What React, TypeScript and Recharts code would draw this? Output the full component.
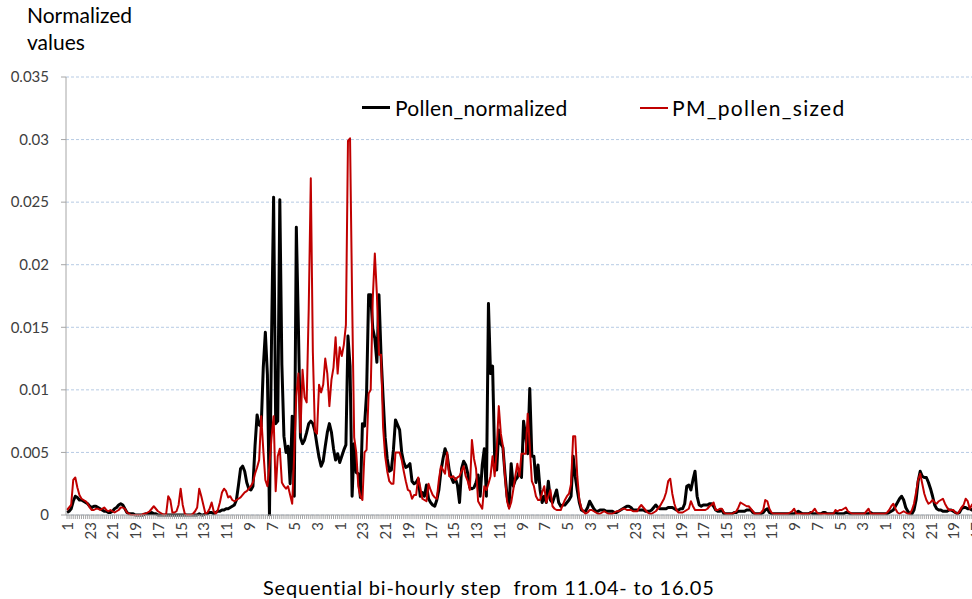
import { LineChart, Line, XAxis, YAxis, CartesianGrid } from "recharts";

// hour of day shown under every 11th bi-hourly step
const HOUR_LABELS = [
  "1", "23", "21", "19", "17", "15", "13", "11", "9", "7", "5", "3",
  "1", "23", "21", "19", "17", "15", "13", "11", "9", "7", "5", "3",
  "1", "23", "21", "19", "17", "15", "13", "11", "9", "7", "5", "3",
  "1", "23", "21", "19", "17",
];
const LABEL_EVERY = 11;

const Y_TICKS = [0, 0.005, 0.01, 0.015, 0.02, 0.025, 0.03, 0.035];

// one row per 11 bi-hourly steps
const POLLEN_NORMALIZED = [
  0.0002, 0.0003, 0.0005, 0.0011, 0.0015, 0.0014, 0.0012, 0.0012, 0.0011, 0.001, 0.0009,
  0.0007, 0.0006, 0.0007, 0.0007, 0.0006, 0.0005, 0.0004, 0.0003, 0.0003, 0.0002, 0.0002,
  0.0003, 0.0005, 0.0006, 0.0008, 0.0009, 0.0008, 0.0005, 0.0002, 0.0001, 0.0001, 0.0001,
  0, 0, 0, 0, 0, 0.0001, 0.0001, 0.0001, 0.0002, 0.0001, 0.0001,
  0, 0, 0, 0, 0, 0, 0, 0, 0, 0, 0,
  0, 0, 0, 0, 0, 0, 0, 0, 0, 0.0001, 0,
  0, 0.0001, 0.0001, 0.0002, 0.0002, 0.0001, 0.0002, 0.0003, 0.0003, 0.0004, 0.0004,
  0.0005, 0.0005, 0.0006, 0.0007, 0.0008, 0.0012, 0.0024, 0.0037, 0.0039, 0.0035, 0.0026,
  0.0021, 0.002, 0.0023, 0.0055, 0.008, 0.0072, 0.0071, 0.0118, 0.0146, 0.0112, 0,
  0.0141, 0.0254, 0.0073, 0.0075, 0.0252, 0.012, 0.0063, 0.005, 0.0055, 0.0025, 0.0079,
  0.0015, 0.023, 0.015, 0.0062, 0.0057, 0.006, 0.0066, 0.0073, 0.0075, 0.0073, 0.0067,
  0.0056, 0.0046, 0.0039, 0.0043, 0.0055, 0.0066, 0.0073, 0.0066, 0.0053, 0.0044, 0.0049,
  0.0042, 0.0047, 0.0052, 0.0056, 0.0143, 0.0119, 0.0015, 0.0057, 0.0034, 0.0033, 0.0014,
  0.0073, 0.0071, 0.0097, 0.0176, 0.0176, 0.0149, 0.0141, 0.0122, 0.0176, 0.0128, 0.0094,
  0.0062, 0.0045, 0.0035, 0.0036, 0.0052, 0.0076, 0.0072, 0.0068, 0.005, 0.0042, 0.0038,
  0.0039, 0.0041, 0.0027, 0.0025, 0.0026, 0.0029, 0.0015, 0.0018, 0.0015, 0.0024, 0.0013,
  0.001, 0.0008, 0.0007, 0.0012, 0.002, 0.0035, 0.0045, 0.0053, 0.0048, 0.0036, 0.003,
  0.0026, 0.0029, 0.0024, 0.001, 0.0037, 0.0043, 0.004, 0.0033, 0.0022, 0.0021, 0.0022,
  0.0026, 0.0032, 0.0015, 0.004, 0.0053, 0.0015, 0.0169, 0.0113, 0.0119, 0.0046, 0.0036,
  0.0068, 0.0057, 0.0054, 0.0033, 0.0015, 0.0007, 0.0041, 0.0023, 0.0028, 0.003, 0.0036,
  0.003, 0.0075, 0.0063, 0.0049, 0.0101, 0.0047, 0.0047, 0.0026, 0.004, 0.002, 0.001,
  0.0015, 0.001, 0.0027, 0.0012, 0.001, 0.0015, 0.002, 0.001, 0.0007, 0.0008, 0.0008,
  0.001, 0.0012, 0.0015, 0.0047, 0.0031, 0.002, 0.001, 0.0004, 0.0003, 0.0003, 0.0006,
  0.0011, 0.0008, 0.0005, 0.0003, 0.0003, 0.0004, 0.0004, 0.0004, 0.0003, 0.0003, 0.0003,
  0.0003, 0.0002, 0.0002, 0.0003, 0.0004, 0.0005, 0.0006, 0.0007, 0.0007, 0.0006, 0.0004,
  0.0004, 0.0004, 0.0004, 0.0004, 0.0004, 0.0003, 0.0003, 0.0003, 0.0004, 0.0006, 0.0008,
  0.0006, 0.0005, 0.0005, 0.0005, 0.0005, 0.0006, 0.0006, 0.0006, 0.0005, 0.0004, 0.0004,
  0.0005, 0.0005, 0.0009, 0.0023, 0.0024, 0.002, 0.0028, 0.0035, 0.0015, 0.0008, 0.0007,
  0.0008, 0.0008, 0.0008, 0.0009, 0.0009, 0.0007, 0.0004, 0.0003, 0.0003, 0.0004, 0.0001,
  0.0001, 0.0001, 0.0001, 0.0001, 0.0002, 0.0002, 0.0003, 0.0003, 0.0003, 0.0003, 0.0004,
  0.0004, 0.0004, 0.0002, 0.0001, 0.0001, 0.0001, 0.0001, 0.0002, 0.0004, 0.0005, 0.0002,
  0.0001, 0.0001, 0.0001, 0.0001, 0.0001, 0.0001, 0.0001, 0.0001, 0.0001, 0.0001, 0.0001,
  0.0001, 0.0002, 0.0003, 0.0002, 0.0001, 0.0001, 0.0001, 0.0001, 0.0002, 0.0001, 0.0001,
  0.0001, 0.0001, 0.0001, 0.0002, 0.0002, 0.0001, 0.0001, 0.0001, 0.0001, 0.0002, 0.0001,
  0.0001, 0.0001, 0.0001, 0.0002, 0.0002, 0.0001, 0.0001, 0.0001, 0.0001, 0.0001, 0.0001,
  0.0001, 0.0001, 0.0001, 0.0001, 0.0002, 0.0001, 0.0001, 0.0001, 0.0001, 0.0001, 0.0001,
  0.0001, 0.0001, 0.0002, 0.0003, 0.0004, 0.0007, 0.001, 0.0013, 0.0015, 0.0012, 0.0006,
  0.0003, 0.0001, 0.0001, 0.0004, 0.0012, 0.0027, 0.0035, 0.0031, 0.003, 0.003, 0.0026,
  0.0021, 0.0015, 0.0008, 0.0005, 0.0004, 0.0004, 0.0003, 0.0003, 0.0003, 0.0004, 0.0004,
  0.0003, 0.0002, 0.0001, 0.0002, 0.0005, 0.0006, 0.0006, 0.0005, 0.0005, 0.0004, 0.0003,
  0.0003,
];

const PM_POLLEN_SIZED = [
  0.0004, 0.0006, 0.0008, 0.0028, 0.003, 0.0022, 0.0016, 0.0013, 0.0012, 0.0011, 0.0009,
  0.0006, 0.0004, 0.0004, 0.0005, 0.0005, 0.0004, 0.0005, 0.0006, 0.0004, 0.0003, 0.0004,
  0.0003, 0.0002, 0.0003, 0.0004, 0.0006, 0.0006, 0.0005, 0.0002, 0.0001, 0, 0,
  0, 0, 0, 0, 0.0001, 0.0001, 0.0002, 0.0003, 0.0005, 0.0007, 0.0005,
  0.0003, 0.0002, 0.0001, 0, 0.0001, 0.0015, 0.0012, 0.0002, 0.0002, 0.0003, 0.0008,
  0.0021, 0.0008, 0.0001, 0, 0, 0, 0.0001, 0.0003, 0.0006, 0.0021, 0.0015,
  0.0008, 0.0001, 0.0002, 0.0005, 0.001, 0.0003, 0.0001, 0.0004, 0.001, 0.0018, 0.0021,
  0.0019, 0.0014, 0.0015, 0.0012, 0.0011, 0.0012, 0.0013, 0.0014, 0.0016, 0.0018, 0.0019,
  0.0021, 0.0023, 0.0026, 0.0033, 0.0038, 0.0044, 0.0079, 0.0052, 0.0028, 0.0023, 0.004,
  0.0062, 0.0079, 0.0019, 0.0047, 0.0053, 0.0026, 0.0023, 0.0021, 0.0023, 0.0016, 0.0009,
  0.005, 0.0095, 0.0113, 0.0066, 0.0116, 0.0094, 0.009, 0.0165, 0.0269, 0.013, 0.0067,
  0.0065, 0.0104, 0.0098, 0.0104, 0.0125, 0.0113, 0.0087, 0.0108, 0.0118, 0.0142, 0.0113,
  0.0134, 0.0127, 0.0136, 0.0152, 0.0299, 0.0301, 0.0173, 0.0062, 0.005, 0.0023, 0.0015,
  0.0012, 0.005, 0.0052, 0.0097, 0.01, 0.0173, 0.0209, 0.0176, 0.0128, 0.0128, 0.007,
  0.0047, 0.0035, 0.0027, 0.0025, 0.0025, 0.005, 0.005, 0.005, 0.0044, 0.0035, 0.0027,
  0.002, 0.0019, 0.0013, 0.0016, 0.0016, 0.003, 0.0022, 0.0013, 0.0012, 0.0011, 0.0025,
  0.002, 0.0016, 0.0014, 0.0013, 0.0028, 0.0039, 0.0036, 0.0033, 0.005, 0.0031, 0.003,
  0.0031, 0.0028, 0.003, 0.0031, 0.0035, 0.0039, 0.0031, 0.0027, 0.002, 0.006, 0.0045,
  0.0037, 0.0011, 0.0008, 0.0005, 0.0023, 0.002, 0.0025, 0.0031, 0.0047, 0.0031, 0.0052,
  0.0087, 0.0065, 0.0055, 0.0031, 0.0011, 0.0005, 0.001, 0.002, 0.0031, 0.0041, 0.0031,
  0.0049, 0.0049, 0.0049, 0.0081, 0.0055, 0.0027, 0.0023, 0.0015, 0.0012, 0.0012, 0.0018,
  0.0023, 0.001, 0.0015, 0.002, 0.0007, 0.0005, 0.0004, 0.0004, 0.0004, 0.0008, 0.0012,
  0.0015, 0.0017, 0.0025, 0.0063, 0.0063, 0.0031, 0.0012, 0.0005, 0.0003, 0.0001, 0.0002,
  0.0004, 0.0004, 0.0003, 0.0002, 0.0001, 0.0001, 0.0002, 0.0003, 0.0002, 0.0001, 0.0001,
  0.0001, 0.0002, 0.0003, 0.0003, 0.0004, 0.0005, 0.0005, 0.0004, 0.0004, 0.0004, 0.0003,
  0.0003, 0.0003, 0.0006, 0.0008, 0.0006, 0.0004, 0.0002, 0.0001, 0.0001, 0.0002, 0.0003,
  0.0005, 0.0007, 0.001, 0.0013, 0.0018, 0.0027, 0.0029, 0.0017, 0.0009, 0.0004, 0.0002,
  0.0002, 0.0002, 0.0003, 0.0004, 0.0005, 0.0011, 0.0007, 0.0004, 0.0004, 0.0004, 0.0004,
  0.0004, 0.0004, 0.0005, 0.0007, 0.0008, 0.001, 0.0004, 0.0004, 0.0005, 0.0005, 0.0002,
  0.0001, 0.0001, 0.0001, 0.0001, 0.0002, 0.0003, 0.0006, 0.001, 0.0009, 0.0008, 0.0007,
  0.0007, 0.0005, 0.0003, 0.0001, 0.0001, 0.0001, 0.0002, 0.0004, 0.0012, 0.0011, 0.0005,
  0.0002, 0.0001, 0.0001, 0.0001, 0.0001, 0.0001, 0.0001, 0.0001, 0.0001, 0.0002, 0.0003,
  0.0005, 0.0001, 0.0001, 0.0001, 0.0001, 0.0001, 0.0001, 0.0001, 0.0002, 0.0003, 0.0005,
  0.0002, 0.0001, 0.0001, 0.0001, 0.0001, 0.0001, 0.0001, 0.0001, 0.0001, 0.0004, 0.0003,
  0.0004, 0.0004, 0.0005, 0.0006, 0.0003, 0.0002, 0.0001, 0.0001, 0.0001, 0.0001, 0.0001,
  0.0001, 0.0001, 0.0003, 0.0005, 0.0001, 0.0001, 0.0001, 0.0001, 0.0001, 0.0001, 0.0001,
  0.0001, 0.0002, 0.0004, 0.0007, 0.0009, 0.0005, 0.0002, 0.0001, 0.0002, 0.0003, 0.0002,
  0.0001, 0.0001, 0.0004, 0.0009, 0.0018, 0.0028, 0.0033, 0.0025, 0.0017, 0.0012, 0.0009,
  0.001, 0.0012, 0.001, 0.0009, 0.0011, 0.0012, 0.0013, 0.0009, 0.0006, 0.0004, 0.0004,
  0.0004, 0.0002, 0.0001, 0.0003, 0.0006, 0.0008, 0.0013, 0.0011, 0.0005, 0.0008, 0.001,
  0.0012,
];

const rows = POLLEN_NORMALIZED.map((pollen, i) => ({
  step: i,
  pollen,
  pm: PM_POLLEN_SIZED[i],
}));
const stepTicks = rows.map((r) => r.step);

const FONT = "Lato, 'Open Sans', sans-serif";
const AXIS_GREY = "#a6a6a6";

function HourTick(props: any) {
  const { x, y, payload } = props;
  const step = payload.value as number;
  if (step % LABEL_EVERY !== 0) return <g />;
  return (
    <text
      x={x}
      y={y}
      transform={`rotate(-90 ${x} ${y})`}
      textAnchor="end"
      dominantBaseline="central"
      fontSize={15}
      fontFamily={FONT}
      fill="#404040"
    >
      {HOUR_LABELS[step / LABEL_EVERY]}
    </text>
  );
}

export default function App() {
  return (
    <div
      style={{
        position: "absolute",
        left: 0,
        top: 0,
        width: 972,
        height: 599,
        overflow: "hidden",
        background: "#fff",
        fontFamily: FONT,
        color: "#000",
      }}
    >
      <div style={{ position: "absolute", left: 27, top: 1, fontSize: 21, lineHeight: "27px" }}>
        Normalized
        <br />
        values
      </div>

      <LineChart
        width={977}
        height={599}
        data={rows}
        margin={{ top: 77, right: 0, bottom: 0, left: 0 }}
      >
        <CartesianGrid
          vertical={false}
          stroke="#b7cbe4"
          strokeDasharray="3 2"
        />
        <XAxis
          type="number"
          dataKey="step"
          domain={[-0.5, rows.length - 0.5]}
          ticks={stepTicks}
          interval={0}
          height={84}
          tick={<HourTick />}
          tickSize={4}
          tickMargin={3}
          axisLine={{ stroke: AXIS_GREY }}
          tickLine={{ stroke: AXIS_GREY }}
        />
        <YAxis
          type="number"
          domain={[0, 0.035]}
          ticks={Y_TICKS}
          interval={0}
          width={66}
          tickSize={5}
          tickMargin={12}
          axisLine={{ stroke: AXIS_GREY }}
          tickLine={{ stroke: AXIS_GREY }}
          tick={{ fontSize: 15, fontFamily: FONT, fill: "#404040" }}
          tickFormatter={(v: number) => String(Number(v.toFixed(3)))}
        />
        <Line
          type="linear"
          dataKey="pollen"
          stroke="#000"
          strokeWidth={3}
          strokeLinejoin="round"
          dot={false}
          activeDot={false}
          isAnimationActive={false}
        />
        <Line
          type="linear"
          dataKey="pm"
          stroke="#c00000"
          strokeWidth={2}
          strokeLinejoin="round"
          dot={false}
          activeDot={false}
          isAnimationActive={false}
        />
      </LineChart>

      {/* legend */}
      <div
        style={{
          position: "absolute",
          left: 362,
          top: 95,
          display: "flex",
          alignItems: "center",
          fontSize: 21,
          letterSpacing: 0.3,
        }}
      >
        <span style={{ display: "inline-block", width: 28, height: 3, background: "#000", marginRight: 5 }} />
        Pollen_normalized
      </div>
      <div
        style={{
          position: "absolute",
          left: 640,
          top: 95,
          display: "flex",
          alignItems: "center",
          fontSize: 21,
          letterSpacing: 1.3,
        }}
      >
        <span style={{ display: "inline-block", width: 28, height: 2, background: "#c00000", marginRight: 4 }} />
        PM_pollen_sized
      </div>

      <div
        style={{
          position: "absolute",
          left: 263,
          top: 576,
          fontSize: 20,
          lineHeight: "22px",
          letterSpacing: 0.8,
          whiteSpace: "pre",
        }}
      >
        {"Sequential bi-hourly step  from 11.04- to 16.05"}
      </div>
    </div>
  );
}
